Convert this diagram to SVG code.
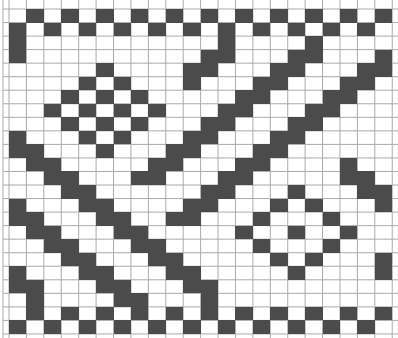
<svg xmlns="http://www.w3.org/2000/svg" width="398" height="338" viewBox="0 0 398 338">
<style>
.grid{fill:none;stroke:#ababab;stroke-width:1}
.d rect{fill:#4b4b4b;height:1px}
.d{shape-rendering:crispEdges}
</style>
<rect width="398" height="338" fill="#ffffff"/>
<g id="grid">
<path class="grid" d="M3 0V338M9 0V338M26.42 0V338M43.84 0V338M61.26 0V338M78.68 0V338M96.1 0V338M113.52 0V338M130.94 0V338M148.36 0V338M165.78 0V338M183.2 0V338M200.62 0V338M218.04 0V338M235.46 0V338M252.88 0V338M270.3 0V338M287.72 0V338M305.14 0V338M322.56 0V338M339.98 0V338M357.4 0V338M374.82 0V338M392.24 0V338"/>
<path class="grid" d="M3 9H398M3 22.54H398M3 36.08H398M3 49.62H398M3 63.16H398M3 76.7H398M3 90.24H398M3 103.78H398M3 117.32H398M3 130.86H398M3 144.4H398M3 157.94H398M3 171.48H398M3 185.02H398M3 198.56H398M3 212.1H398M3 225.64H398M3 239.18H398M3 252.72H398M3 266.26H398M3 279.8H398M3 293.34H398M3 306.88H398M3 320.42H398M3 333.96H398"/>
</g>
<g id="cells" class="d" transform="translate(9 9) scale(17.42 13.54)">
<!-- row 0 -->
<rect x="1" y="0" width="1" height="1"/><rect x="3" y="0" width="1" height="1"/><rect x="5" y="0" width="1" height="1"/><rect x="7" y="0" width="1" height="1"/><rect x="9" y="0" width="1" height="1"/><rect x="11" y="0" width="1" height="1"/><rect x="13" y="0" width="1" height="1"/><rect x="15" y="0" width="1" height="1"/><rect x="17" y="0" width="1" height="1"/><rect x="19" y="0" width="1" height="1"/><rect x="21" y="0" width="1" height="1"/>
<!-- row 1 -->
<rect x="0" y="1" width="1" height="1"/><rect x="2" y="1" width="1" height="1"/><rect x="4" y="1" width="1" height="1"/><rect x="6" y="1" width="1" height="1"/><rect x="8" y="1" width="1" height="1"/><rect x="10" y="1" width="1" height="1"/><rect x="12" y="1" width="1" height="1"/><rect x="14" y="1" width="1" height="1"/><rect x="16" y="1" width="1" height="1"/><rect x="18" y="1" width="1" height="1"/><rect x="20" y="1" width="1" height="1"/>
<!-- row 2 -->
<rect x="0" y="2" width="1" height="1"/><rect x="12" y="2" width="1" height="1"/><rect x="17" y="2" width="1" height="1"/>
<!-- row 3 -->
<rect x="0" y="3" width="1" height="1"/><rect x="11" y="3" width="2" height="1"/><rect x="16" y="3" width="2" height="1"/><rect x="21" y="3" width="1" height="1"/>
<!-- row 4 -->
<rect x="5" y="4" width="1" height="1"/><rect x="10" y="4" width="2" height="1"/><rect x="15" y="4" width="2" height="1"/><rect x="20" y="4" width="2" height="1"/>
<!-- row 5 -->
<rect x="4" y="5" width="1" height="1"/><rect x="6" y="5" width="1" height="1"/><rect x="10" y="5" width="1" height="1"/><rect x="14" y="5" width="2" height="1"/><rect x="19" y="5" width="2" height="1"/>
<!-- row 6 -->
<rect x="3" y="6" width="1" height="1"/><rect x="5" y="6" width="1" height="1"/><rect x="7" y="6" width="1" height="1"/><rect x="13" y="6" width="2" height="1"/><rect x="18" y="6" width="2" height="1"/>
<!-- row 7 -->
<rect x="2" y="7" width="1" height="1"/><rect x="4" y="7" width="1" height="1"/><rect x="6" y="7" width="1" height="1"/><rect x="8" y="7" width="1" height="1"/><rect x="12" y="7" width="2" height="1"/><rect x="17" y="7" width="2" height="1"/>
<!-- row 8 -->
<rect x="3" y="8" width="1" height="1"/><rect x="5" y="8" width="1" height="1"/><rect x="7" y="8" width="1" height="1"/><rect x="11" y="8" width="2" height="1"/><rect x="16" y="8" width="2" height="1"/>
<!-- row 9 -->
<rect x="0" y="9" width="1" height="1"/><rect x="4" y="9" width="1" height="1"/><rect x="6" y="9" width="1" height="1"/><rect x="10" y="9" width="2" height="1"/><rect x="15" y="9" width="2" height="1"/>
<!-- row 10 -->
<rect x="0" y="10" width="2" height="1"/><rect x="5" y="10" width="1" height="1"/><rect x="9" y="10" width="2" height="1"/><rect x="14" y="10" width="2" height="1"/>
<!-- row 11 -->
<rect x="1" y="11" width="2" height="1"/><rect x="8" y="11" width="2" height="1"/><rect x="13" y="11" width="2" height="1"/><rect x="19" y="11" width="1" height="1"/>
<!-- row 12 -->
<rect x="2" y="12" width="2" height="1"/><rect x="7" y="12" width="2" height="1"/><rect x="12" y="12" width="2" height="1"/><rect x="19" y="12" width="2" height="1"/>
<!-- row 13 -->
<rect x="3" y="13" width="2" height="1"/><rect x="11" y="13" width="2" height="1"/><rect x="16" y="13" width="1" height="1"/><rect x="20" y="13" width="2" height="1"/>
<!-- row 14 -->
<rect x="0" y="14" width="1" height="1"/><rect x="4" y="14" width="2" height="1"/><rect x="10" y="14" width="2" height="1"/><rect x="15" y="14" width="1" height="1"/><rect x="17" y="14" width="1" height="1"/><rect x="21" y="14" width="1" height="1"/>
<!-- row 15 -->
<rect x="0" y="15" width="2" height="1"/><rect x="5" y="15" width="2" height="1"/><rect x="9" y="15" width="2" height="1"/><rect x="14" y="15" width="1" height="1"/><rect x="18" y="15" width="1" height="1"/>
<!-- row 16 -->
<rect x="1" y="16" width="2" height="1"/><rect x="6" y="16" width="2" height="1"/><rect x="13" y="16" width="1" height="1"/><rect x="16" y="16" width="1" height="1"/><rect x="19" y="16" width="1" height="1"/>
<!-- row 17 -->
<rect x="2" y="17" width="2" height="1"/><rect x="7" y="17" width="2" height="1"/><rect x="14" y="17" width="1" height="1"/><rect x="18" y="17" width="1" height="1"/>
<!-- row 18 -->
<rect x="3" y="18" width="2" height="1"/><rect x="8" y="18" width="2" height="1"/><rect x="15" y="18" width="1" height="1"/><rect x="17" y="18" width="1" height="1"/><rect x="21" y="18" width="1" height="1"/>
<!-- row 19 -->
<rect x="0" y="19" width="1" height="1"/><rect x="4" y="19" width="2" height="1"/><rect x="9" y="19" width="2" height="1"/><rect x="16" y="19" width="1" height="1"/><rect x="21" y="19" width="1" height="1"/>
<!-- row 20 -->
<rect x="0" y="20" width="2" height="1"/><rect x="5" y="20" width="2" height="1"/><rect x="10" y="20" width="2" height="1"/>
<!-- row 21 -->
<rect x="1" y="21" width="1" height="1"/><rect x="6" y="21" width="2" height="1"/><rect x="11" y="21" width="1" height="1"/>
<!-- row 22 -->
<rect x="1" y="22" width="1" height="1"/><rect x="3" y="22" width="1" height="1"/><rect x="5" y="22" width="1" height="1"/><rect x="7" y="22" width="1" height="1"/><rect x="9" y="22" width="1" height="1"/><rect x="11" y="22" width="1" height="1"/><rect x="13" y="22" width="1" height="1"/><rect x="15" y="22" width="1" height="1"/><rect x="17" y="22" width="1" height="1"/><rect x="19" y="22" width="1" height="1"/><rect x="21" y="22" width="1" height="1"/>
<!-- row 23 -->
<rect x="0" y="23" width="1" height="1"/><rect x="2" y="23" width="1" height="1"/><rect x="4" y="23" width="1" height="1"/><rect x="6" y="23" width="1" height="1"/><rect x="8" y="23" width="1" height="1"/><rect x="10" y="23" width="1" height="1"/><rect x="12" y="23" width="1" height="1"/><rect x="14" y="23" width="1" height="1"/><rect x="16" y="23" width="1" height="1"/><rect x="18" y="23" width="1" height="1"/><rect x="20" y="23" width="1" height="1"/>
</g>
</svg>
